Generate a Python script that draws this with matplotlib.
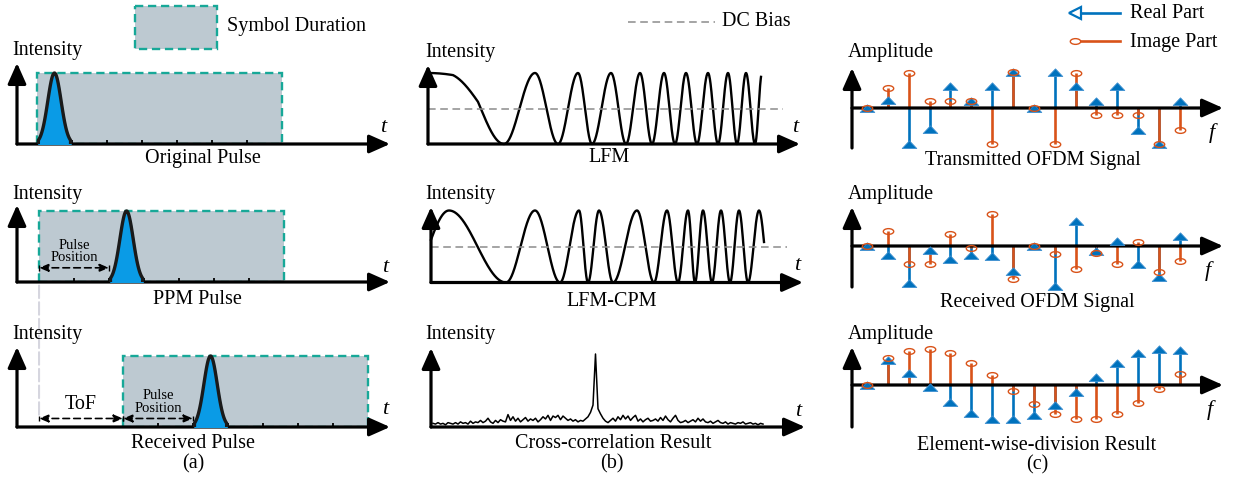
import matplotlib.pyplot as plt
import numpy as np
from matplotlib.patches import Rectangle, ConnectionPatch
from matplotlib.path import Path
from matplotlib.transforms import Affine2D

plt.rcParams['font.family'] = ['Liberation Serif', 'DejaVu Serif']

W, H = 1234, 483

# ---------------- data ----------------
# (a) pulse position modulation (time measured in slots)
symbol_start = [0.57, 0.63, 3.03]
pulse_slot = [0, 2, 2]
n_slots = 7
pulse_titles = ["Original Pulse", "PPM Pulse", "Received Pulse"]

# (b) waveforms: t of successive peaks / troughs, phase in half cycles
lfm_t = [0, 25, 50, 76, 107, 130, 150, 164, 183, 198, 212, 224, 236, 247,
         258, 269, 280, 290, 300, 309, 318, 327, 333]
lfm_phase = [0, 0.11, 0.44, 1, 2, 3, 4, 5, 6, 7, 8, 9, 10, 11, 12, 13, 14,
             15, 16, 17, 18, 19, 19.85]
cpm_t = [0, 18, 75, 104, 129, 148, 157, 168, 182, 206, 223, 236, 247, 257,
         264, 272, 281, 290, 299, 308, 317, 328, 333]
cpm_phase = [-0.44, 0, 1, 2, 3, 4, 5, 6, 7, 8, 9, 10, 11, 12, 13, 14, 15, 16,
             17, 18, 19, 20, 20.46]
xcorr = [5, 4, 6, 4, 5, 3, 6, 5, 4, 6,
         4, 7, 5, 6, 4, 8, 5, 7, 6, 9,
         6, 8, 12, 7, 5, 9, 6, 10, 8, 7,
         17, 9, 14, 8, 12, 7, 10, 13, 8, 11,
         9, 12, 7, 10, 14, 11, 16, 9, 15, 13,
         16, 10, 15, 12, 9, 11, 8, 10, 7, 9,
         8, 11, 14, 20, 30, 100, 25, 18, 12, 8,
         6, 9, 12, 8, 14, 10, 16, 11, 15, 9,
         13, 16, 8, 11, 7, 10, 12, 8, 9, 11,
         8, 13, 9, 15, 10, 7, 12, 16, 9, 6,
         7, 9, 6, 8, 10, 7, 12, 8, 11, 7,
         6, 8, 5, 7, 9, 6, 5, 7, 4, 6,
         5, 4, 6, 5, 7, 4, 5, 6, 4, 5, 3, 5, 4]
wave_titles = ["LFM", "LFM-CPM", "Cross-correlation Result"]

# (c) OFDM subcarriers
tx_real = [0, 0.21, -1.0, -0.57, 0.6, 0.2, 0.6, 1.0, 0, 1.0, 0.6, 0.2, 0.6, -0.6, -1.0, 0.2]
tx_imag = [0, 0.56, 0.97, 0.19, 0.2, 0.19, -1.0, 1.0, 0, -1.0, 0.97, -0.2, -0.2, -0.2, -1.0, -0.6]
rx_real = [0, -0.25, -1.04, -0.11, -0.37, -0.25, -0.27, -0.69, 0, -1.11, 0.7, -0.14, 0.15, -0.51, -0.87, 0.29]
rx_imag = [0, 0.43, -0.51, -0.5, 0.32, -0.05, 0.88, -0.91, 0, -0.22, -0.63, -0.2, -0.5, 0.1, -0.71, -0.41]
div_real = [0, 0.69, 0.34, -0.06, -0.46, -0.79, -0.95, -0.95, -0.83, -0.56, -0.19, 0.23, 0.6, 0.88, 1.0, 0.97]
div_imag = [0, 0.74, 0.95, 1.0, 0.88, 0.62, 0.28, -0.16, -0.53, -0.81, -0.95, -0.95, -0.81, -0.49, -0.11, 0.31]
ofdm_titles = ["Transmitted OFDM Signal", "Received OFDM Signal", "Element-wise-division Result"]

BLUE = '#0072BD'
ORANGE = '#D95319'
BOX_FC = '#BDC9D1'
BOX_EC = '#17A898'
PULSE = '#0A9BE6'
FS = 14.5

fig = plt.figure(figsize=(W / 100, H / 100), dpi=100)


def px_axes(x0, x1, ytop, ybot):
    ax = fig.add_axes([x0 / W, 1 - ybot / H, (x1 - x0) / W, (ybot - ytop) / H])
    ax.set_axis_off()
    return ax


def px_text(x, y, s, **kw):
    kw.setdefault('fontsize', FS)
    kw.setdefault('va', 'center')
    fig.text(x / W, 1 - y / H, s, **kw)


def arrow_axes(ax):
    kw = dict(arrowstyle='-|>,head_length=0.9,head_width=0.4', lw=2.3,
              color='k', mutation_scale=14, shrinkA=0, shrinkB=0)
    ax.annotate('', xy=(1, 0), xytext=(0, 0), xycoords=('axes fraction', 'data'),
                arrowprops=kw, annotation_clip=False)
    ax.annotate('', xy=(0, 1), xytext=(0, 0), xycoords='axes fraction',
                arrowprops=kw, annotation_clip=False)


def dim_arrow(ax, x0, x1, y):
    ax.annotate('', xy=(x1, y), xytext=(x0, y),
                arrowprops=dict(arrowstyle='<|-|>,head_length=0.6,head_width=0.25',
                                lw=1.2, color='k', mutation_scale=9,
                                linestyle=(0, (4, 2.5)), shrinkA=0, shrinkB=0))
    ax.vlines([x0, x1], y - 0.04, y + 0.04, color='k', lw=1.0)


# ---------------- (a) ----------------
a_base = [144, 282, 427]
a_top = [63, 205, 347]
a_title_y = [158, 300, 443]
axes_a = []
for i in range(3):
    ax = px_axes(17, 390, a_top[i], a_base[i])
    ax.set_xlim(0, 373 / 35)
    ax.set_ylim(0, (a_base[i] - a_top[i]) / 71)
    s = symbol_start[i]
    ax.add_patch(Rectangle((s, 0), n_slots, 1, fc=BOX_FC, ec=BOX_EC, lw=1.7,
                           ls=(0, (3.5, 2)), zorder=1))
    ax.vlines(s + np.arange(1, n_slots), 0, 0.06, color='k', lw=1.3, zorder=3)
    c = s + pulse_slot[i] + 0.5
    tt = np.linspace(-0.46, 0.46, 93)
    yy = np.exp(-tt ** 2 / (2 * 0.19 ** 2))
    ax.fill_between(c + tt, yy, color=PULSE, zorder=4)
    ax.plot(np.r_[c - 0.46, c + tt, c + 0.46], np.r_[0, yy, 0], color='#1a1a1a',
            lw=2.4, zorder=5, solid_joinstyle='round')
    arrow_axes(ax)
    axes_a.append(ax)
    px_text(12, [51, 194, 335][i], "Intensity")
    px_text([383, 385, 385][i], [128, 267, 410][i], "t", style='italic', ha='center', fontsize=16)
    px_text([203, 197, 193][i], a_title_y[i], pulse_titles[i], ha='center')

# pulse position / ToF markers
y_pp = 0.2
dim_arrow(axes_a[1], symbol_start[1], symbol_start[1] + pulse_slot[1], y_pp)
axes_a[1].text(symbol_start[1] + pulse_slot[1] / 2, y_pp + 0.05, "Pulse\nPosition",
               ha='center', va='bottom', fontsize=10.5, linespacing=0.95)
y_tof = 0.12
dim_arrow(axes_a[2], symbol_start[1], symbol_start[2], y_tof)
axes_a[2].text((symbol_start[1] + symbol_start[2]) / 2, y_tof + 0.06, "ToF",
               ha='center', va='bottom', fontsize=FS)
dim_arrow(axes_a[2], symbol_start[2], symbol_start[2] + pulse_slot[2], y_tof)
axes_a[2].text(symbol_start[2] + pulse_slot[2] / 2, y_tof + 0.05, "Pulse\nPosition",
               ha='center', va='bottom', fontsize=10.5, linespacing=0.95)
con = ConnectionPatch(xyA=(symbol_start[1], -0.05), coordsA=axes_a[1].transData,
                      xyB=(symbol_start[1], y_tof), coordsB=axes_a[2].transData,
                      color='#D6D6DF', lw=1.5, ls=(0, (6, 2)), zorder=0)
fig.add_artist(con)
px_text(193, 464, "(a)", ha='center')

# ---------------- (b) ----------------
b_axis = [428, 431, 431]
b_tip = [800, 803, 805]
b_base = [144, 282.5, 427]
b_top = [65, 207, 348]
b_unit = [71, 72, 73]
b_dc_end = [783, 787]
for i in range(3):
    ax = px_axes(b_axis[i], b_tip[i], b_top[i], b_base[i])
    ax.set_xlim(0, b_tip[i] - b_axis[i])
    ax.set_ylim(0, (b_base[i] - b_top[i]) / b_unit[i])
    if i < 2:
        knots_t, knots_p = (lfm_t, lfm_phase) if i == 0 else (cpm_t, cpm_phase)
        t = np.linspace(knots_t[0], knots_t[-1], 1500)
        ph = np.interp(t, knots_t, knots_p)
        ax.plot(t, 0.5 * (1 + np.cos(np.pi * ph)), color='k', lw=1.7, clip_on=False)
        ax.hlines(0.5, 0, b_dc_end[i] - b_axis[i], color='#8c8c8c', lw=1.1,
                  linestyles=(0, (5, 3)))
    else:
        t = np.linspace(2, 332, len(xcorr))
        ax.plot(t, np.array(xcorr) / 100, color='k', lw=1.1, clip_on=False)
    arrow_axes(ax)
    px_text(425, [52, 194, 334][i], "Intensity")
    px_text([795, 797, 798][i], [128, 266, 411][i], "t", style='italic', ha='center', fontsize=16)
    px_text([609, 612, 613][i], [158, 301, 444][i], wave_titles[i], ha='center')
px_text(612, 464, "(b)", ha='center')

# ---------------- (c) ----------------
tri = Path([(-1, -0.55), (1, -0.55), (0, 0.5), (-1, -0.55)],
           [Path.MOVETO, Path.LINETO, Path.LINETO, Path.CLOSEPOLY])
ell = Affine2D().scale(1, 0.55).transform_path(Path.unit_circle())
c_base = [108, 246, 385]
c_top = [68, 207, 347]
c_bot = [148, 287, 427]
c_series = [(tx_real, tx_imag), (rx_real, rx_imag), (div_real, div_imag)]
for i in range(3):
    ax = px_axes(852, 1223, c_top[i], c_bot[i])
    ax.set_xlim(-15 / 20.85, 356 / 20.85)
    ax.set_ylim(-(c_bot[i] - c_base[i]) / 36, (c_base[i] - c_top[i]) / 36)
    re, im = c_series[i]
    k = np.arange(len(re))
    ax.vlines(k, 0, re, color=BLUE, lw=1.9, zorder=2)
    ax.vlines(k, 0, im, color=ORANGE, lw=1.9, zorder=3)
    ax.plot(k, re, ls='none', marker=tri, ms=10.5, color=BLUE, mec='#3d8fd0', mew=0.6,
            zorder=4, clip_on=False)
    ax.plot(k, im, ls='none', marker=ell, ms=7.5, mfc='none', mec=ORANGE, mew=1.0,
            zorder=5, clip_on=False)
    arrow_axes(ax)
    px_text(848, [52, 194, 335][i], "Amplitude")
    px_text([1212, 1208, 1210][i], [133, 271, 410][i], "f", style='italic', ha='center', fontsize=16)
    px_text([1033, 1037, 1037][i], [160, 302, 445][i], ofdm_titles[i], ha='center')
px_text(1037, 465, "(c)", ha='center')

# ---------------- legends ----------------
ov = fig.add_axes([0, 0, 1, 1], zorder=-1)
ov.set_xlim(0, W)
ov.set_ylim(H, 0)
ov.set_axis_off()
ov.add_patch(Rectangle((135, 6), 82, 43, fc=BOX_FC, ec=BOX_EC, lw=1.7, ls=(0, (3.5, 2))))
px_text(227, 27, "Symbol Duration")
ov.plot([628, 715], [22, 22], color='#8c8c8c', lw=1.1, ls=(0, (5, 3)))
px_text(722, 22, "DC Bias")
ov.plot([1073, 1120], [13, 13], color=BLUE, lw=1.9)
ov.plot([1075], [13], marker='<', ms=8, mfc='white', mec=BLUE, mew=1.6)
px_text(1130, 14, "Real Part")
ov.plot([1073, 1120], [41, 41], color=ORANGE, lw=1.9)
ov.plot([1075], [41], marker=ell, ms=7.5, mfc='white', mec=ORANGE, mew=1.0)
px_text(1130, 42, "Image Part")

fig.savefig('out.png', dpi=100)
